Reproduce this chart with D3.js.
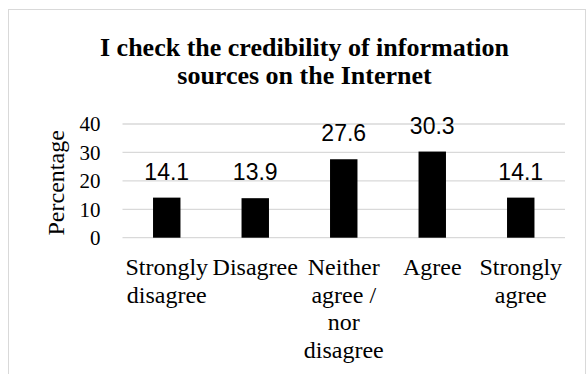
<!DOCTYPE html>
<html><head><meta charset="utf-8">
<script src="https://cdn.jsdelivr.net/npm/d3@7"></script>
<style>html,body{margin:0;padding:0;background:#fff;}svg{display:block;}
.serif{font-family:"Liberation Serif","Times New Roman",Times,"DejaVu Serif",serif;}
.sans{font-family:"Liberation Sans",Arial,sans-serif;}
</style>
</head><body>
<svg id="chart" width="586" height="374"></svg>
<script>
const categories = [["Strongly","disagree"],["Disagree"],["Neither","agree /","nor","disagree"],["Agree"],["Strongly","agree"]];
const values = [14.1, 13.9, 27.6, 30.3, 14.1];
const yTicks = [0, 10, 20, 30, 40];
const titleLines = ["I check the credibility of information", "sources on the Internet"];
const yLabel = "Percentage";

const svg = d3.select("#chart");
const plot = {left: 122.5, right: 565, top: 124, bottom: 237.7};

svg.append("rect").attr("x", 8.5).attr("y", 9.5).attr("width", 577).attr("height", 400)
  .attr("fill", "#fff").attr("stroke", "#d9d9d9").attr("stroke-width", 1);

const x = d3.scaleBand().domain(d3.range(values.length)).range([plot.left, plot.right]).padding(0);
const y = d3.scaleLinear().domain([0, 40]).range([plot.bottom, plot.top]);

// title
const t = svg.append("text").attr("class", "serif").attr("text-anchor", "middle")
  .attr("font-weight", "bold").attr("font-size", 26).attr("fill", "#000");
titleLines.forEach((l, i) => t.append("tspan").attr("x", 304.5).attr("y", 56 + i * 28).text(l));

// gridlines
svg.append("g").selectAll("line").data(yTicks).join("line")
  .attr("x1", plot.left).attr("x2", plot.right)
  .attr("y1", d => y(d)).attr("y2", d => y(d))
  .attr("stroke", "#d9d9d9").attr("stroke-width", 1.3);

// y axis
const yAxis = d3.axisLeft(y).tickValues(yTicks).tickSize(0).tickPadding(22);
const ya = svg.append("g").attr("transform", `translate(${plot.left},0)`).call(yAxis);
ya.select(".domain").remove();
ya.attr("font-family", null).attr("font-size", null);
ya.selectAll("text").attr("class", "serif").attr("font-size", 21).attr("fill", "#000");

svg.append("text").attr("class", "serif").attr("transform", `translate(64,${(plot.top + plot.bottom) / 2 + 2}) rotate(-90)`)
  .attr("text-anchor", "middle").attr("font-size", 24).attr("fill", "#000").text(yLabel);

// bars
const bw = x.bandwidth() * 0.31;
svg.append("g").selectAll("rect").data(values).join("rect")
  .attr("x", (d, i) => x(i) + x.bandwidth() / 2 - bw / 2)
  .attr("y", d => y(d)).attr("width", bw).attr("height", d => y(0) - y(d))
  .attr("fill", "#000");

// data labels
svg.append("g").selectAll("text").data(values).join("text").attr("class", "sans")
  .attr("x", (d, i) => x(i) + x.bandwidth() / 2).attr("y", d => y(d) - 18)
  .attr("text-anchor", "middle").attr("font-size", 23).attr("fill", "#000").text(d => d.toFixed(1));

// category labels
const cg = svg.append("g");
categories.forEach((lines, i) => {
  const tx = cg.append("text").attr("class", "serif").attr("text-anchor", "middle")
    .attr("font-size", 24).attr("fill", "#000");
  lines.forEach((l, j) => tx.append("tspan").attr("x", x(i) + x.bandwidth() / 2).attr("y", 275 + j * 27.5).text(l));
});
</script>
</body></html>
